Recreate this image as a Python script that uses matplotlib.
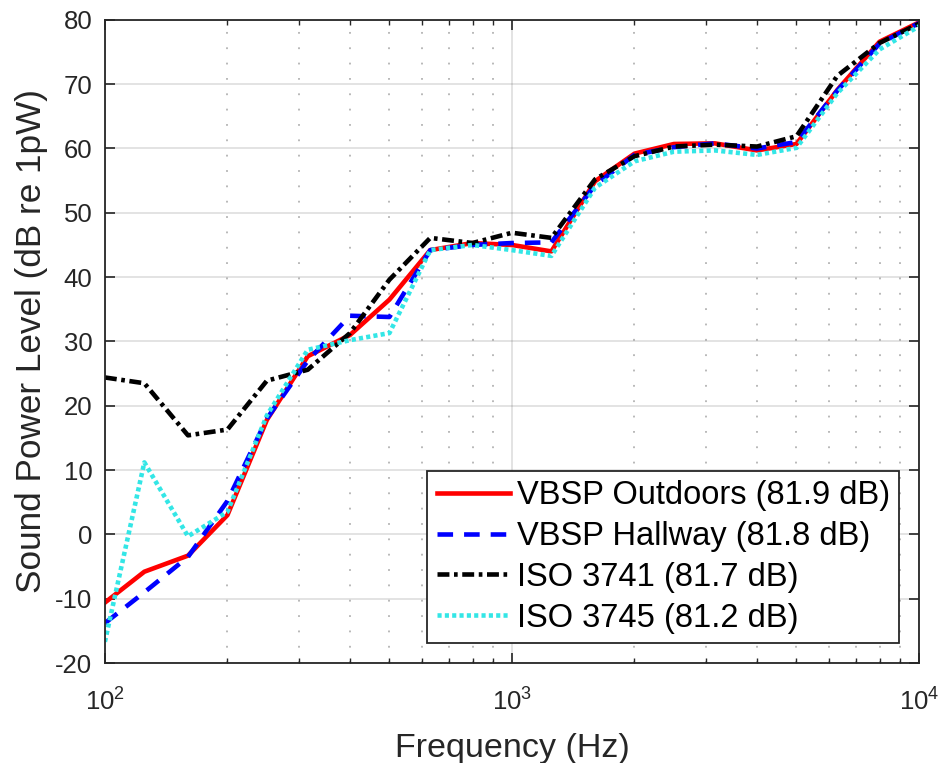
import numpy as np
import matplotlib.pyplot as plt
from matplotlib.ticker import LogLocator, FixedLocator, NullFormatter

plt.rcParams['font.family'] = ['Liberation Sans', 'DejaVu Sans']
plt.rcParams['mathtext.fontset'] = 'custom'
plt.rcParams['mathtext.rm'] = 'Liberation Sans'
plt.rcParams['axes.unicode_minus'] = False

# one-third octave band centres (Hz)
freq = [100, 125, 160, 200, 250, 315, 400, 500, 630, 800, 1000,
        1250, 1600, 2000, 2500, 3150, 4000, 5000, 6300, 8000, 10000]

# sound power level per band (dB re 1pW)
vbsp_outdoors = [-10.6, -5.8, -3.3, 3.0, 17.8, 27.7, 31.0, 36.5, 44.2, 45.3, 45.0,
                 44.0, 54.9, 59.2, 60.7, 60.8, 59.7, 60.7, 69.1, 76.6, 79.6]
vbsp_hallway = [-13.8, -9.0, -3.5, 5.2, 18.0, 27.0, 34.0, 33.8, 44.2, 45.0, 45.3,
                45.4, 54.3, 59.0, 60.2, 60.8, 60.0, 61.0, 69.0, 76.3, 79.5]
iso_3741 = [24.4, 23.5, 15.4, 16.3, 23.9, 25.6, 31.3, 39.6, 46.1, 45.3, 46.9,
            46.1, 55.2, 58.8, 60.3, 60.6, 60.3, 61.9, 71.3, 76.4, 79.4]
iso_3745 = [-16.7, 11.2, -0.3, 3.5, 18.5, 28.7, 30.2, 31.3, 44.2, 45.0, 44.2,
            43.3, 53.9, 58.0, 59.5, 59.7, 59.0, 60.1, 68.6, 75.4, 79.0]

labels = ['VBSP Outdoors (81.9 dB)', 'VBSP Hallway (81.8 dB)',
          'ISO 3741 (81.7 dB)', 'ISO 3745 (81.2 dB)']

fig = plt.figure(figsize=(9.45, 7.63), dpi=100)
ax = fig.add_axes([0.111, 0.131, 0.8615, 0.843])

lw = 3.3
ax.plot(freq, vbsp_outdoors, color='#ff0000', lw=lw, ls='-', label=labels[0])
ax.plot(freq, vbsp_hallway, color='#0000ff', lw=lw, ls=(0, (3.4, 2.4)), label=labels[1])
ax.plot(freq, iso_3741, color='#000000', lw=lw, ls=(0, (2.6, 1.0, 0.8, 1.0)), label=labels[2])
ax.plot(freq, iso_3745, color='#33e6e6', lw=lw, ls=(0, (0.9, 0.7)), label=labels[3])

ax.set_xscale('log')
ax.set_xlim(100, 10000)
ax.set_ylim(-20, 80)
ax.set_yticks(np.arange(-20, 81, 10))
ax.xaxis.set_major_locator(FixedLocator([100, 1000, 10000]))
ax.xaxis.set_minor_locator(LogLocator(base=10, subs=np.arange(2, 10)))
ax.xaxis.set_minor_formatter(NullFormatter())
ax.set_xticklabels([r'$10^2$', r'$10^3$', r'$10^4$'])

# grid: solid major lines, dotted minor lines on the frequency axis
ax.grid(True, which='major', color='#262626', alpha=0.15, lw=1.2, ls='-')
ax.grid(True, which='minor', axis='x', color='#262626', alpha=0.35, lw=1.3, ls=(0, (1, 7.5)))

ax.tick_params(which='both', direction='in', top=True, right=True,
               color='#262626', labelcolor='#262626')
ax.tick_params(which='major', length=7, width=1.2, labelsize=18.5)
ax.tick_params(axis='y', which='major', pad=9)
ax.tick_params(axis='x', which='major', pad=17)
ax.tick_params(which='minor', length=3.5, width=1.0)
for s in ax.spines.values():
    s.set_color('#262626')
    s.set_linewidth(1.3)

ax.set_xlabel('Frequency (Hz)', fontsize=24.5, color='#262626', labelpad=13)
ax.set_ylabel('Sound Power Level (dB re 1pW)', fontsize=25.3, color='#262626', labelpad=5)

leg = ax.legend(loc='lower right', fontsize=23.5, frameon=True, fancybox=False,
                handlelength=2.25, handletextpad=0.2, borderpad=0.3,
                labelspacing=0.3, borderaxespad=0.6)
leg.get_frame().set_edgecolor('#262626')
leg.get_frame().set_linewidth(1.3)
leg.get_frame().set_alpha(1.0)

fig.savefig('out.png', dpi=100)
